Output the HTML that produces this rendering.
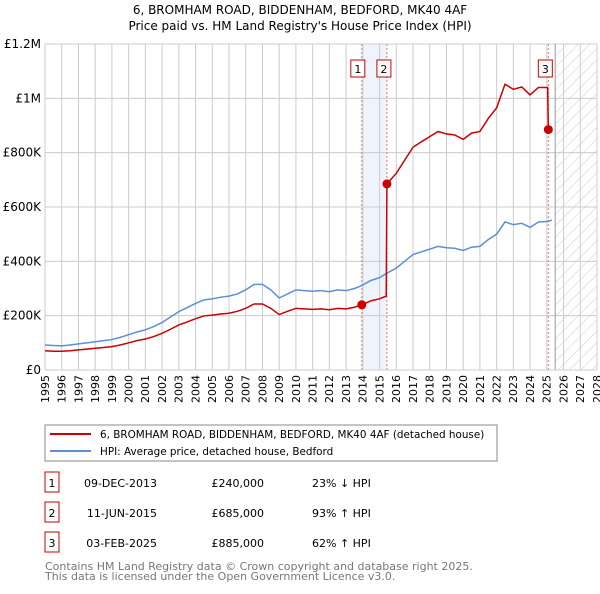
<!DOCTYPE html>
<html><head><meta charset="utf-8"><style>
body{margin:0;background:#fff;font-family:"DejaVu Sans","Liberation Sans",sans-serif;}
svg text{font-family:"DejaVu Sans","Liberation Sans",sans-serif;}
</style></head><body>
<svg id="chart" width="600" height="590" xmlns="http://www.w3.org/2000/svg">
<defs><pattern id="hatch" width="8" height="8" patternUnits="userSpaceOnUse" patternTransform="rotate(45)"><line x1="0" y1="0" x2="0" y2="8" stroke="#ccc" stroke-width="1"/></pattern></defs>
<text x="300" y="14" text-anchor="middle" font-size="12">6, BROMHAM ROAD, BIDDENHAM, BEDFORD, MK40 4AF</text>
<text x="300" y="30" text-anchor="middle" font-size="12">Price paid vs. HM Land Registry's House Price Index (HPI)</text>
<g id="grid"></g><g id="marks"></g><g id="axes"></g>
<rect x="45" y="425" width="452" height="36" fill="#fff" stroke="#888"/>
<line x1="50" y1="434" x2="91" y2="434" stroke="#cc0000" stroke-width="2"/>
<text x="100" y="438" font-size="10.4">6, BROMHAM ROAD, BIDDENHAM, BEDFORD, MK40 4AF (detached house)</text>
<line x1="50" y1="451" x2="91" y2="451" stroke="#5b8fd6" stroke-width="2"/>
<text x="100" y="455" font-size="10.4">HPI: Average price, detached house, Bedford</text>
<g id="table" font-size="11"></g>
<text x="45" y="570" font-size="11" fill="#777">Contains HM Land Registry data © Crown copyright and database right 2025.</text>
<text x="45" y="580" font-size="11" fill="#777">This data is licensed under the Open Government Licence v3.0.</text>
</svg>
<script>
const yTicks=[0,200,400,600,800,1000,1200];
const yTickLabels=["£0","£200K","£400K","£600K","£800K","£1M","£1.2M"];
const xYears=[1995,1996,1997,1998,1999,2000,2001,2002,2003,2004,2005,2006,2007,2008,2009,2010,2011,2012,2013,2014,2015,2016,2017,2018,2019,2020,2021,2022,2023,2024,2025,2026,2027,2028];
const hpiT=[1995.0,1995.5,1996.0,1996.5,1997.0,1997.5,1998.0,1998.5,1999.0,1999.5,2000.0,2000.5,2001.0,2001.5,2002.0,2002.5,2003.0,2003.5,2004.0,2004.5,2005.0,2005.5,2006.0,2006.5,2007.0,2007.5,2008.0,2008.5,2009.0,2009.5,2010.0,2010.5,2011.0,2011.5,2012.0,2012.5,2013.0,2013.5,2013.9,2014.5,2015.0,2015.4,2016.0,2016.5,2017.0,2017.5,2018.0,2018.5,2019.0,2019.5,2020.0,2020.5,2021.0,2021.5,2022.0,2022.5,2023.0,2023.5,2024.0,2024.5,2025.1,2025.3];
const hpiV=[92,90,89,92,96,100,104,108,112,120,130,140,148,160,175,195,215,230,245,258,262,268,272,280,295,315,315,295,265,280,295,292,290,292,288,295,292,300,310,330,340,355,375,400,425,435,445,455,450,448,440,452,455,480,500,545,535,540,525,545,547,552];
const propT=[1995.0,1995.5,1996.0,1996.5,1997.0,1997.5,1998.0,1998.5,1999.0,1999.5,2000.0,2000.5,2001.0,2001.5,2002.0,2002.5,2003.0,2003.5,2004.0,2004.5,2005.0,2005.5,2006.0,2006.5,2007.0,2007.5,2008.0,2008.5,2009.0,2009.5,2010.0,2010.5,2011.0,2011.5,2012.0,2012.5,2013.0,2013.5,2013.94,2014.5,2015.0,2015.4,2015.44,2016.0,2016.5,2017.0,2017.5,2018.0,2018.5,2019.0,2019.5,2020.0,2020.5,2021.0,2021.5,2022.0,2022.5,2023.0,2023.5,2024.0,2024.5,2025.05,2025.09];
const propV=[71,69,69,71,74,77,80,83,86,92,100,108,114,123,135,150,166,177,189,199,202,206,209,216,227,243,243,227,204,216,227,225,223,225,222,227,225,231,240,255,262,272,685,724,772,820,840,859,878,869,865,849,872,878,926,965,1052,1033,1042,1013,1040,1040,885];
const saleT=[2013.94,2015.44,2025.09];
const saleV=[240,685,885];
const saleLabels=["1","2","3"];
const saleDates=["09-DEC-2013","11-JUN-2015","03-FEB-2025"];
const salePrices=["£240,000","£685,000","£885,000"];
const saleHpi=["23% ↓ HPI","93% ↑ HPI","62% ↑ HPI"];
const hatchStart=2025.5;

const L=45,R=597,T=44,B=370;
const x=t=>L+(t-1995)/(2028-1995)*(R-L);
const y=v=>B-v/1200*(B-T);
const NS="http://www.w3.org/2000/svg";
function mk(tag,attrs,parent,txt){const e=document.createElementNS(NS,tag);for(const k in attrs)e.setAttribute(k,attrs[k]);if(txt!==undefined)e.textContent=txt;parent.appendChild(e);return e;}
const grid=document.getElementById('grid'),marks=document.getElementById('marks'),axes=document.getElementById('axes'),table=document.getElementById('table');
mk('rect',{x:L,y:T,width:R-L,height:B-T,fill:'#fff'},grid);
const shade=mk('rect',{x:x(saleT[0]),y:T,width:x(saleT[1])-x(saleT[0]),height:B-T,fill:'#eef3fc'},grid);


const hat=mk('rect',{x:x(hatchStart),y:T,width:R-x(hatchStart),height:B-T,fill:'url(#hatch)'},grid);


xYears.forEach(yr=>{mk('line',{x1:x(yr),y1:T,x2:x(yr),y2:B,stroke:'#ccc','stroke-width':1},grid);
 const t=mk('text',{x:x(yr),y:B+5,'font-size':11,'text-anchor':'end',transform:`rotate(-90 ${x(yr)} ${B+5})`,dy:'0.35em'},axes,String(yr));
 
 });
yTicks.forEach((v,i)=>{mk('line',{x1:L,y1:y(v),x2:R,y2:y(v),stroke:'#ccc','stroke-width':1},grid);
 const t=mk('text',{x:L-4,y:y(v)+4,'font-size':12,'text-anchor':'end'},axes,yTickLabels[i]);
 
 });
mk('line',{x1:x(hatchStart),y1:T,x2:x(hatchStart),y2:B,stroke:'#999','stroke-width':1},grid);
saleT.forEach((t,i)=>{mk('line',{x1:x(t),y1:T,x2:x(t),y2:B,stroke:'#f07070','stroke-width':1,'stroke-dasharray':'2,2'},grid);
 const g=mk('g',{},marks);
 
 
 const cx=i==0?x(t)-4:(i==1?x(t)-3:x(t)-3);
 mk('rect',{x:cx-7,y:60,width:14,height:17,fill:'#fff',stroke:'#cc0000'},g);
 mk('text',{x:cx,y:73,'font-size':11,'text-anchor':'middle'},g,saleLabels[i]);});
const pl=(T_,V_,c,name)=>{const p=mk('polyline',{points:T_.map((t,i)=>x(t)+','+y(V_[i])).join(' '),fill:'none',stroke:c,'stroke-width':1.5},marks);
 
 };
pl(hpiT,hpiV,'#5b8fd6','hpi-line');
pl(propT,propV,'#cc0000','property-price-line');
saleT.forEach((t,i)=>{const c=mk('circle',{cx:x(t),cy:y(saleV[i]),r:4.5,fill:'#cc0000'},marks);
 
 });
saleT.forEach((t,i)=>{const yy=483+i*30;
 const g=mk('g',{},table);
 
 
 mk('rect',{x:45,y:yy-11,width:14,height:20,fill:'#fff',stroke:'#cc0000'},g);
 mk('text',{x:52,y:yy+4,'text-anchor':'middle'},g,saleLabels[i]);
 mk('text',{x:157,y:yy+4,'text-anchor':'end'},g,saleDates[i]);
 mk('text',{x:264,y:yy+4,'text-anchor':'end'},g,salePrices[i]);
 mk('text',{x:312,y:yy+4},g,saleHpi[i]);});
mk('line',{x1:L,y1:B,x2:R,y2:B,stroke:'#ccc'},axes);
</script>
</body></html>
